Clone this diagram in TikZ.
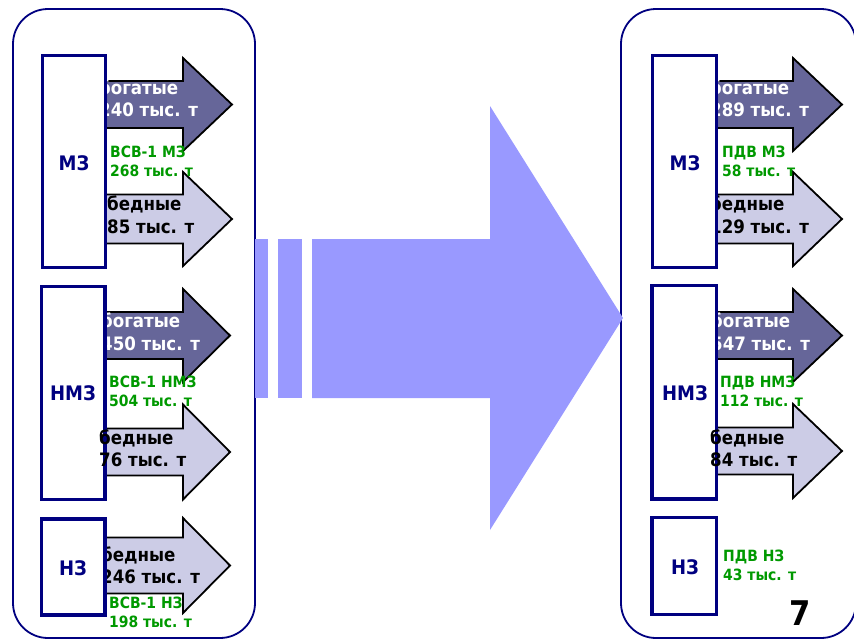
\documentclass[tikz,border=0pt]{standalone}
\usepackage{fontspec}
\setmainfont{DejaVu Sans Condensed}
\definecolor{navy}{HTML}{000080}
\definecolor{richfill}{HTML}{666699}
\definecolor{poorfill}{HTML}{CCCCE6}
\definecolor{bigblue}{HTML}{9999FF}
\definecolor{grn}{HTML}{009900}
\tikzset{
  panel/.style={draw=navy, line width=1.8pt, rounded corners=35pt},
  orebox/.style={draw=navy, line width=3.3pt, fill=white},
  orelabel/.style={text=navy, inner sep=0pt, font=\fontsize{20}{24}\selectfont\bfseries},
  richarrow/.style={fill=richfill, draw=black, line width=1.8pt},
  poorarrow/.style={fill=poorfill, draw=black, line width=1.8pt},
  richtext/.style={text=white, anchor=west, inner sep=0pt, align=left, font=\fontsize{18.5}{22.5}\selectfont\bfseries},
  poortext/.style={richtext, text=black},
  grntext/.style={text=grn, anchor=west, inner sep=0pt, align=left, font=\fontsize{15.5}{19}\selectfont\bfseries},
  bigarrow/.style={fill=bigblue, draw=none},
}
% style, x0, xhead, xtip, ycenter, bodyhalf, headhalf
\newcommand\blockarr[7]{%
  \draw[#1] (#2,#5-#6) -- (#3,#5-#6) -- (#3,#5-#7) -- (#4,#5) -- (#3,#5+#7) -- (#3,#5+#6) -- (#2,#5+#6) -- cycle;}
\begin{document}
\begin{tikzpicture}[x=1pt,y=-1pt]
\useasboundingbox (0,0) rectangle (854,640);
\fill[white] (0,0) rectangle (854,640);

% panels
\draw[panel] (13,9) rectangle (255,638);
\draw[panel] (621,9) rectangle (856,638);

% big arrow
\fill[bigarrow] (255,239) rectangle (268,398);
\fill[bigarrow] (278,239) rectangle (302,398);
\fill[bigarrow] (312,239) -- (490,239) -- (490,106) -- (623,318) -- (490,530) -- (490,398) -- (312,398) -- cycle;

% ---------- left MZ ----------
\blockarr{richarrow}{100}{183}{232}{104.5}{23.5}{46.5}
\blockarr{poorarrow}{100}{183}{232}{219}{24.5}{47}
\node[richtext] (lmzr) at (99,98.5) {богатые\\240 тыс. т};
\node[poortext] (lmzp) at (107,215) {бедные\\85 тыс. т};
\node[grntext] (lmzg) at (110,161.5) {ВСВ-1 МЗ\\268 тыс. т};
\draw[orebox] (42.5,55.5) rectangle (105.5,267.5);
\node[orelabel] (lmz) at (74,163) {МЗ};

% ---------- left NMZ ----------
\blockarr{richarrow}{100}{183}{230}{335.5}{23.5}{46.5}
\blockarr{poorarrow}{100}{183}{230}{452}{23.5}{47.5}
\node[richtext] (lnmzr) at (101,332) {богатые\\450 тыс. т};
\node[grntext] (lnmzg) at (109,391) {ВСВ-1 НМЗ\\504 тыс. т};
\draw[orebox] (41.5,286.5) rectangle (105,499.5);
\node[orelabel] (lnmz) at (73,393) {НМЗ};
\node[poortext] (lnmzp) at (99,448.5) {бедные\\76 тыс. т};

% ---------- left NZ ----------
\blockarr{poorarrow}{100}{183}{230}{565.5}{28}{47.5}
\node[poortext] (lnzp) at (101,565.5) {бедные\\246 тыс. т};
\node[grntext] (lnzg) at (109,612) {ВСВ-1 НЗ\\198 тыс. т};
\draw[orebox] (41.5,519) rectangle (105,615);
\node[orelabel] (lnz) at (73,568) {НЗ};

% ---------- right MZ ----------
\blockarr{richarrow}{710}{793}{842}{104.5}{23.5}{46.5}
\blockarr{poorarrow}{710}{793}{842}{219}{24.5}{47}
\node[richtext] (rmzr) at (710,98.5) {богатые\\289 тыс. т};
\node[poortext] (rmzp) at (710,215) {бедные\\129 тыс. т};
\node[grntext] (rmzg) at (722,161.5) {ПДВ МЗ\\58 тыс. т};
\draw[orebox] (652.3,55.5) rectangle (716.7,267.5);
\node[orelabel] (rmz) at (685,163) {МЗ};

% ---------- right NMZ ----------
\blockarr{richarrow}{710}{793}{842}{335.5}{23.5}{46.5}
\blockarr{poorarrow}{710}{793}{842}{451}{23.5}{47}
\node[richtext] (rnmzr) at (711,332) {богатые\\547 тыс. т};
\node[grntext] (rnmzg) at (720,391) {ПДВ НМЗ\\112 тыс. т};
\draw[orebox] (652,285.7) rectangle (716.5,499);
\node[orelabel] (rnmz) at (685,393) {НМЗ};
\node[poortext] (rnmzp) at (710,448.5) {бедные\\84 тыс. т};

% ---------- right NZ ----------
\node[grntext] (rnzg) at (723,565.5) {ПДВ НЗ\\43 тыс. т};
\draw[orebox] (652,517.7) rectangle (716.5,614.3);
\node[orelabel] (rnz) at (685,567) {НЗ};

% page number
\node[inner sep=0pt, font=\fontsize{34}{34}\selectfont\bfseries] (pnum) at (800,613) {7};
\end{tikzpicture}
\end{document}
